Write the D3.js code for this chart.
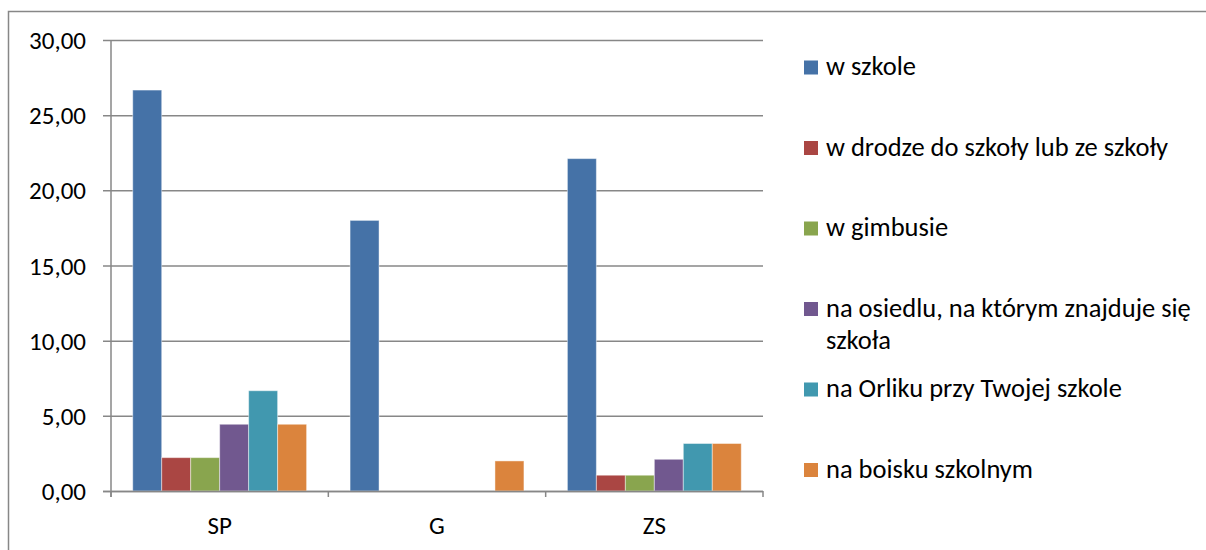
<!DOCTYPE html>
<html>
<head>
<meta charset="utf-8">
<script src="https://cdn.jsdelivr.net/npm/d3@7"></script>
<style>
  html, body { margin: 0; padding: 0; background: #ffffff; }
  svg { display: block; }
  text { font-family: Carlito, Calibri, Lato, "Open Sans", sans-serif; fill: #000; }
</style>
</head>
<body>
<svg id="chart" width="1206" height="550"></svg>
<script>
const categories = ["SP", "G", "ZS"];
const seriesNames = [
  "w szkole",
  "w drodze do szkoły lub ze szkoły",
  "w gimbusie",
  "na osiedlu, na którym znajduje się szkoła",
  "na Orliku przy Twojej szkole",
  "na boisku szkolnym"
];
const legendLines = [
  ["w szkole"],
  ["w drodze do szkoły lub ze szkoły"],
  ["w gimbusie"],
  ["na osiedlu, na którym znajduje się", "szkoła"],
  ["na Orliku przy Twojej szkole"],
  ["na boisku szkolnym"]
];
const wSzkole   = [26.67, 18.00, 22.11];
const wDrodze   = [2.22, 0, 1.05];
const wGimbusie = [2.22, 0, 1.05];
const naOsiedlu = [4.44, 0, 2.11];
const naOrliku  = [6.67, 0, 3.16];
const naBoisku  = [4.44, 2.00, 3.16];
const seriesValues = [wSzkole, wDrodze, wGimbusie, naOsiedlu, naOrliku, naBoisku];
const colors = ["#4572A7", "#AA4643", "#89A54E", "#71588F", "#4198AF", "#DB843D"];
const yTicks = [0, 5, 10, 15, 20, 25, 30];

const svg = d3.select("#chart");
const gray = "#878787";

// outer frame (left + top edges visible)
svg.append("path")
  .attr("d", "M8.5,560 L8.5,11.5 L1220,11.5")
  .attr("fill", "none").attr("stroke", gray).attr("stroke-width", 1.5);

const plot = { left: 111, right: 763, top: 40, bottom: 491 };
const y = d3.scaleLinear().domain([0, 30]).range([plot.bottom, plot.top]);
const x0 = d3.scaleBand().domain(categories).range([plot.left, plot.right]).padding(0);
const bw = x0.bandwidth();
const x1 = d3.scaleBand().domain(d3.range(seriesNames.length))
  .range([bw * 0.1, bw * 0.9]).padding(0);

// gridlines + y ticks
const yAxis = d3.axisLeft(y).tickValues(yTicks)
  .tickSize(-(plot.right - plot.left + 8))
  .tickFormat(d => d3.format(".2f")(d).replace(".", ","));
const gy = svg.append("g").attr("transform", `translate(${plot.left - 8},0)`).call(yAxis);
gy.select(".domain").remove();
gy.selectAll(".tick line").attr("stroke", gray).attr("stroke-width", 1.5)
  .attr("x1", 0).attr("x2", plot.right - plot.left + 8);
gy.selectAll(".tick text").attr("x", -17).attr("font-size", 25).attr("dy", "0.34em")
  .style("font-family", "Carlito, Calibri, Lato, sans-serif").attr("fill", "#000");

// bars
const groups = svg.append("g").selectAll("g").data(categories).join("g")
  .attr("transform", d => `translate(${x0(d)},0)`);
groups.selectAll("rect")
  .data((c, ci) => seriesValues.map((vals, si) => ({ si, v: vals[ci] })).filter(d => d.v > 0))
  .join("rect")
  .attr("x", d => x1(d.si))
  .attr("width", x1.bandwidth())
  .attr("y", d => y(d.v))
  .attr("height", d => y(0) - y(d.v))
  .attr("fill", d => colors[d.si])
  .attr("stroke", "#ffffff").attr("stroke-opacity", 0.45).attr("stroke-width", 1);

// y axis line
svg.append("line")
  .attr("x1", plot.left).attr("x2", plot.left)
  .attr("y1", plot.top).attr("y2", plot.bottom + 6)
  .attr("stroke", gray).attr("stroke-width", 1.5);

// x axis
const xTickPos = categories.map(c => x0(c)).concat([plot.right]);
const xAxis = d3.axisBottom(x0).tickSize(0);
const gx = svg.append("g").attr("transform", `translate(0,${plot.bottom})`).call(xAxis);
gx.select(".domain").attr("d", `M${plot.left - 8},0.5H${plot.right}`)
  .attr("stroke", gray).attr("stroke-width", 1.5);
gx.selectAll(".tick text").attr("font-size", 25).attr("dy", 0)
  .attr("y", 43).attr("fill", "#000");
gx.selectAll("line.sep").data(xTickPos).join("line").attr("class", "sep")
  .attr("x1", d => d).attr("x2", d => d).attr("y1", 0).attr("y2", 6)
  .attr("stroke", gray).attr("stroke-width", 1.5);

// legend
const legendY = d3.scalePoint().domain(d3.range(seriesNames.length)).range([67.5, 470]);
const lg = svg.append("g").selectAll("g").data(seriesNames).join("g")
  .attr("transform", (d, i) => `translate(804,${legendY(i)})`);
lg.append("rect").attr("x", 0).attr("y", -7).attr("width", 14).attr("height", 14)
  .attr("fill", (d, i) => colors[i]);
lg.append("text").attr("x", 22).attr("y", 7.5).attr("font-size", 26.5)
  .selectAll("tspan").data((d, i) => legendLines[i]).join("tspan")
  .attr("x", 22).attr("dy", (d, j) => j === 0 ? 0 : 32).text(d => d);
</script>
</body>
</html>
